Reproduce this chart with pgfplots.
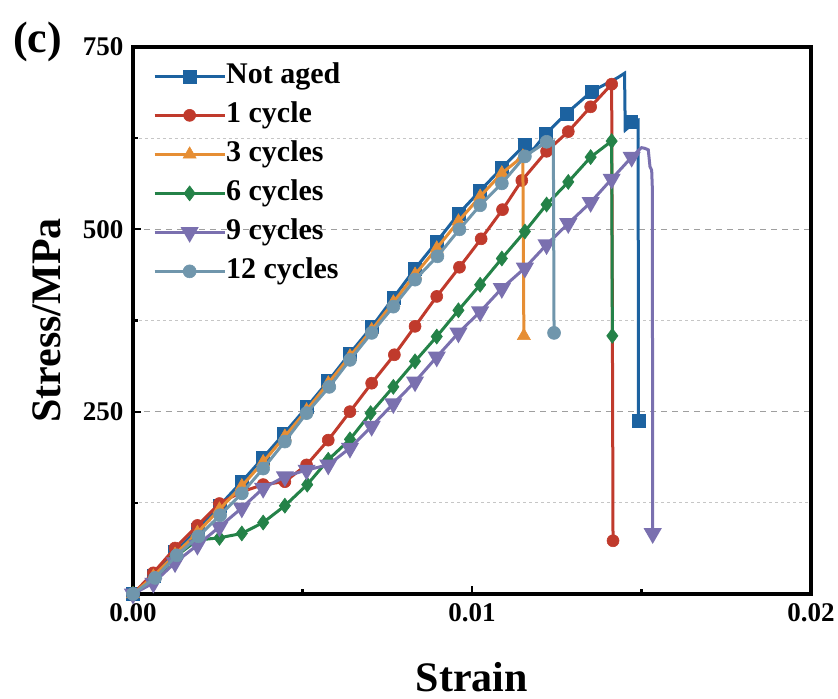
\documentclass[border=0pt]{standalone}
\usepackage{pgfplots}
\pgfplotsset{compat=1.18}
\usepackage{pgfplotstable}
\usepackage{fontspec}
\setmainfont{Liberation Serif}

\definecolor{cNA}{RGB}{28,98,160}
\definecolor{cC1}{RGB}{192,58,44}
\definecolor{cC3}{RGB}{230,142,52}
\definecolor{cC6}{RGB}{36,130,72}
\definecolor{cC9}{RGB}{122,112,175}
\definecolor{cC12}{RGB}{112,150,172}

% columns: strain, stress (MPa), m = 1 where a symbol is drawn
\pgfplotstableread{
x y m
0 0 1
0.0006 25 1
0.00124 58 1
0.0019 88 1
0.00255 121 1
0.00321 154 1
0.00384 187 1
0.00446 220 1
0.00512 256 1
0.00576 292 1
0.0064 330 1
0.00704 366 1
0.00768 406 1
0.00832 446 1
0.00896 483 1
0.0096 521 1
0.01024 553 1
0.01088 584 1
0.01156 616 1
0.0118 609 0
0.01218 631 1
0.01279 659 1
0.01353 689 1
0.0143 708 0
0.0145 714 0
0.01452 636 0
0.01462 640 0
0.01468 648 1
0.0149 650 0
0.01491 237 1
}\tNA

\pgfplotstableread{
x y m
0 0 1
0.0006 29 1
0.00124 63 1
0.0019 94 1
0.00255 124 1
0.0032 140 1
0.00384 150 1
0.00448 154 1
0.00512 177 1
0.00576 211 1
0.0064 250 1
0.00704 289 1
0.00771 328 1
0.00832 367 1
0.00896 408 1
0.00963 448 1
0.01027 487 1
0.0109 527 1
0.01147 567 1
0.0122 607 1
0.01284 634 1
0.0135 668 1
0.01412 699 1
0.01416 73 1
}\tCa

\pgfplotstableread{
x y m
0 0 1
0.0006 24 1
0.00124 54 1
0.0019 84 1
0.00255 116 1
0.00321 148 1
0.00384 181 1
0.00448 216 1
0.00512 252 1
0.00576 289 1
0.0064 326 1
0.00704 362 1
0.00768 400 1
0.00832 438 1
0.00896 474 1
0.0096 511 1
0.01024 545 1
0.01088 577 1
0.0115 600 1
0.01153 354 1
}\tCb

\pgfplotstableread{
x y m
0 0 1
0.0006 17 1
0.00124 51 1
0.0019 74 1
0.00255 77 1
0.00321 83 1
0.00384 98 1
0.00448 121 1
0.00514 150 1
0.00576 184 1
0.0064 212 1
0.00701 248 1
0.00768 284 1
0.00832 319 1
0.00896 353 1
0.0096 389 1
0.01024 424 1
0.01088 460 1
0.01156 497 1
0.0122 534 1
0.01284 565 1
0.0135 599 1
0.01412 621 1
0.01414 354 1
}\tCc

\pgfplotstableread{
x y m
0 0 1
0.0006 15 1
0.00124 43 1
0.0019 67 1
0.00255 92 1
0.00321 118 1
0.00384 145 1
0.00448 161 1
0.00512 170 1
0.00576 177 1
0.0064 200 1
0.00704 230 1
0.00768 261 1
0.00832 291 1
0.00896 325 1
0.0096 358 1
0.01024 387 1
0.01088 419 1
0.01156 447 1
0.0122 479 1
0.01284 508 1
0.0135 537 1
0.01412 569 1
0.01471 599 1
0.015 612 0
0.0151 611 0
0.0152 609 0
0.01525 586 0
0.0153 581 0
0.01532 556 0
0.01533 83 1
}\tCd

\pgfplotstableread{
x y m
0 0 1
0.00065 22 1
0.00129 53 1
0.00193 79 1
0.00257 108 1
0.00321 138 1
0.00384 172 1
0.00448 209 1
0.00512 248 1
0.00579 284 1
0.0064 321 1
0.00704 358 1
0.00768 394 1
0.00832 431 1
0.00898 463 1
0.00963 500 1
0.01024 533 1
0.01088 563 1
0.01156 600 1
0.0122 620 1
0.0124 621 0
0.01242 358 1
}\tCe

\pgfplotsset{
  base/.style={line width=3pt, mark options={solid, line width=0.6pt}},
  sNA/.style={base, color=cNA, mark=square*, mark size=6.5pt},
  sCa/.style={base, color=cC1, mark=*, mark size=6pt},
  sCb/.style={base, color=cC3, mark=triangle*, mark size=7.5pt},
  sCc/.style={base, color=cC6, mark=diamond*, mark size=7.5pt},
  sCd/.style={base, color=cC9, mark=triangle*, mark size=7.5pt, mark options={rotate=180}},
  sCe/.style={base, color=cC12, mark=*, mark size=6.5pt},
  symbols/.style={only marks, forget plot, restrict expr to domain={\thisrow{m}}{0.5:1.5}},
}

\begin{document}
\begin{tikzpicture}
\begin{axis}[
  scale only axis,
  width=678pt, height=547pt,
  xmin=0, xmax=0.02, ymin=0, ymax=750,
  xtick={0,0.01,0.02},
  xticklabels={0.00,0.01,0.02},
  minor xtick={0.005,0.015},
  ytick={250,500,750},
  minor ytick={125,375,625},
  scaled x ticks=false,
  tick pos=left,
  tick align=inside,
  major tick length=8pt,
  minor tick length=5pt,
  every tick/.style={black, line width=2.2pt},
  axis line style={line width=3.2pt},
  ymajorgrids, yminorgrids,
  major grid style={gray!75, line width=1.2pt, dash pattern=on 6pt off 5pt},
  minor grid style={gray!45, line width=1pt, dash pattern=on 3pt off 3pt},
  /pgf/number format/assume math mode=true,
  tick label style={font=\fontsize{27}{27}\selectfont\bfseries},
  xticklabel style={yshift=-6pt},
  yticklabel style={xshift=-6pt},
  xlabel={Strain},
  ylabel={Stress/MPa},
  label style={font=\fontsize{42}{42}\selectfont\bfseries},
  xlabel style={at={(rel axis cs:0.5,-0.178)}, anchor=base},
  ylabel style={at={(rel axis cs:-0.1268,0.5)}, anchor=center, rotate=0},
  legend style={at={(rel axis cs:0.025,0.975)}, anchor=north west, draw=none, fill=none,
    font=\fontsize{30}{30}\selectfont\bfseries, row sep=12pt,
    nodes={inner sep=0pt, text height=21pt, text depth=6pt}},
  legend cell align=left,
  legend image code/.code={\draw[mark repeat=2,mark phase=2] plot coordinates {(0pt,0pt) (35pt,0pt) (70pt,0pt)};},
  /tikz/every even column/.append style={column sep=11pt},
  clip mode=individual,
]
% curves
\addplot[sNA, no marks, forget plot] table[x=x,y=y]{\tNA};
\addplot[sNA, symbols] table[x=x,y=y]{\tNA};
\addplot[sCa, no marks, forget plot] table[x=x,y=y]{\tCa};
\addplot[sCa, symbols] table[x=x,y=y]{\tCa};
\addplot[sCb, no marks, forget plot] table[x=x,y=y]{\tCb};
\addplot[sCb, symbols] table[x=x,y=y]{\tCb};
\addplot[sCc, no marks, forget plot] table[x=x,y=y]{\tCc};
\addplot[sCc, symbols] table[x=x,y=y]{\tCc};
\addplot[sCd, no marks, forget plot] table[x=x,y=y]{\tCd};
\addplot[sCd, symbols] table[x=x,y=y]{\tCd};
\addplot[sCe, no marks, forget plot] table[x=x,y=y]{\tCe};
\addplot[sCe, symbols] table[x=x,y=y]{\tCe};
% legend
\addlegendimage{sNA}\addlegendentry{Not aged}
\addlegendimage{sCa}\addlegendentry{1 cycle}
\addlegendimage{sCb}\addlegendentry{3 cycles}
\addlegendimage{sCc}\addlegendentry{6 cycles}
\addlegendimage{sCd}\addlegendentry{9 cycles}
\addlegendimage{sCe}\addlegendentry{12 cycles}
\node[anchor=base west, inner sep=0pt, xshift=-120pt, yshift=-6pt,
  font=\fontsize{44}{44}\selectfont\bfseries] at (rel axis cs:0,1) {(c)};
\end{axis}
\path ([xshift=-133pt,yshift=-105pt]current axis.south west)
  rectangle ([xshift=27pt,yshift=47pt]current axis.north east);
\end{tikzpicture}
\end{document}
